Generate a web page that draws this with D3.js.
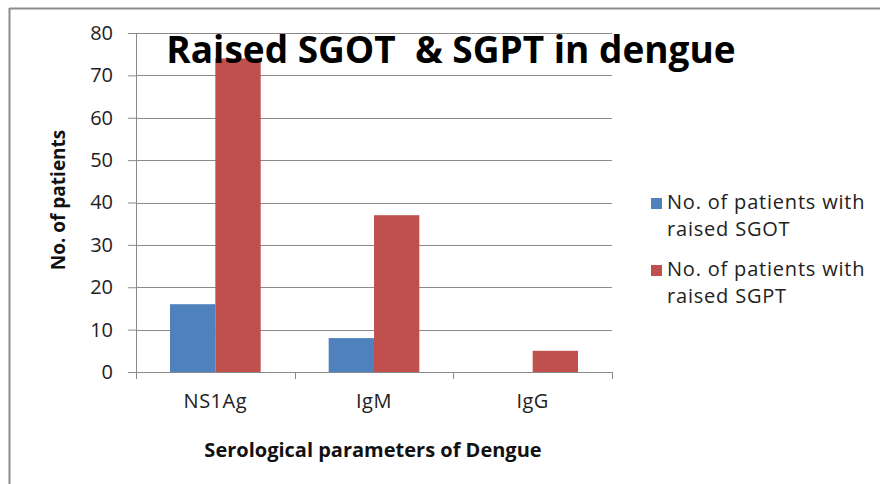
<!DOCTYPE html>
<html>
<head>
<meta charset="utf-8">
<script src="https://cdn.jsdelivr.net/npm/d3@7"></script>
<style>
  body { margin: 0; background: #fff; }
  text { font-family: "Open Sans", "DejaVu Sans", sans-serif; }
</style>
</head>
<body>
<div id="place"></div>
<script>
// valeurs
const categories = ["NS1Ag", "IgM", "IgG"];
const seriesNames = ["No. of patients with raised SGOT", "No. of patients with raised SGPT"];
const sgot = [16, 8, 0];
const sgpt = [74, 37, 5];
const yTicks = [0, 10, 20, 30, 40, 50, 60, 70, 80];
const colors = ["#4F81BD", "#C0504D"];

const W = 880, H = 484;
const margin = { top: 33, right: 268, bottom: 112, left: 136 };
const width = W - margin.left - margin.right,
      height = H - margin.top - margin.bottom;

let svg = d3.select("#place").append("svg")
    .attr("width", W).attr("height", H);

// cadre gris (haut et gauche seulement visibles)
svg.append("line").attr("x1", 9.5).attr("x2", W).attr("y1", 8.5).attr("y2", 8.5)
    .attr("stroke", "#8c8c8c").attr("stroke-width", 2);
svg.append("line").attr("x1", 9.5).attr("x2", 9.5).attr("y1", 8).attr("y2", H)
    .attr("stroke", "#8c8c8c").attr("stroke-width", 2);

let g = svg.append("g").attr("transform", "translate(" + margin.left + "," + margin.top + ")");

let x = d3.scaleBand().domain(categories).range([0, width]);
let y = d3.scaleLinear().domain([0, 80]).range([height, 0]);

// grille
g.selectAll(".grid").data(yTicks.slice(1)).join("line")
    .attr("x1", 0).attr("x2", width)
    .attr("y1", d => Math.round(y(d)) + 0.5).attr("y2", d => Math.round(y(d)) + 0.5)
    .attr("stroke", "#8a8a8a");

// barres
const bw = x.bandwidth() / 3.5;
let groups = g.selectAll(".cat").data(categories).join("g")
    .attr("transform", d => "translate(" + (x(d) + x.bandwidth() / 2 - bw) + ",0)");
[sgot, sgpt].forEach(function (serie, s) {
    groups.append("rect")
        .attr("x", s * bw)
        .attr("width", bw)
        .attr("y", (d, i) => y(serie[i]))
        .attr("height", (d, i) => height - y(serie[i]))
        .attr("fill", colors[s]);
});

// axe y
let yAxis = g.append("g")
    .call(d3.axisLeft(y).tickValues(yTicks).tickSize(8).tickPadding(15));
yAxis.select(".domain").attr("stroke", "#8a8a8a").attr("d", "M0.5,0V" + height);
yAxis.selectAll(".tick line").attr("stroke", "#8a8a8a");
yAxis.selectAll("text").attr("fill", "#222").style("font-size", "20px")
    .style("font-family", "'Open Sans', sans-serif");

// axe x
let xAxis = g.append("g").attr("transform", "translate(0," + height + ")")
    .call(d3.axisBottom(x).tickSize(0).tickPadding(22));
xAxis.select(".domain").attr("stroke", "#8a8a8a").attr("d", "M0,0.5H" + width);
xAxis.selectAll("text").attr("fill", "#222").style("font-size", "20px")
    .style("letter-spacing", "0.5px")
    .style("font-family", "'Open Sans', sans-serif");
let xTickPos = categories.map(c => x(c)).concat([width]);
xAxis.selectAll(".sep").data(xTickPos).join("line")
    .attr("x1", d => Math.round(d) + 0.5).attr("x2", d => Math.round(d) + 0.5)
    .attr("y1", 0).attr("y2", 7).attr("stroke", "#8a8a8a");

// titres
svg.append("text").attr("x", 451).attr("y", 63).attr("text-anchor", "middle")
    .style("font-size", "37px").style("font-weight", "bold").attr("fill", "#000")
    .attr("xml:space", "preserve")
    .text("Raised SGOT  & SGPT in dengue");

svg.append("text").attr("x", 373).attr("y", 457).attr("text-anchor", "middle")
    .style("font-size", "20px").style("font-weight", "bold").attr("fill", "#111")
    .text("Serological parameters of Dengue");

svg.append("text").attr("transform", "translate(65,200) rotate(-90)").attr("text-anchor", "middle")
    .style("font-size", "19px").style("font-weight", "bold").attr("fill", "#111")
    .text("No. of patients");

// légende
let legend = svg.append("g").attr("transform", "translate(651,198)");
seriesNames.forEach(function (name, i) {
    let item = legend.append("g").attr("transform", "translate(0," + (i * 67) + ")");
    item.append("rect").attr("width", 11).attr("height", 11).attr("fill", colors[i]);
    let words = name.split(" ");
    item.append("text").attr("x", 16).attr("y", 11)
        .style("font-size", "20px").style("letter-spacing", "0.8px").attr("fill", "#222")
        .text(words.slice(0, 4).join(" "));
    item.append("text").attr("x", 16).attr("y", 38)
        .style("font-size", "20px").style("letter-spacing", "0.8px").attr("fill", "#222")
        .text(words.slice(4).join(" "));
});
</script>
</body>
</html>
